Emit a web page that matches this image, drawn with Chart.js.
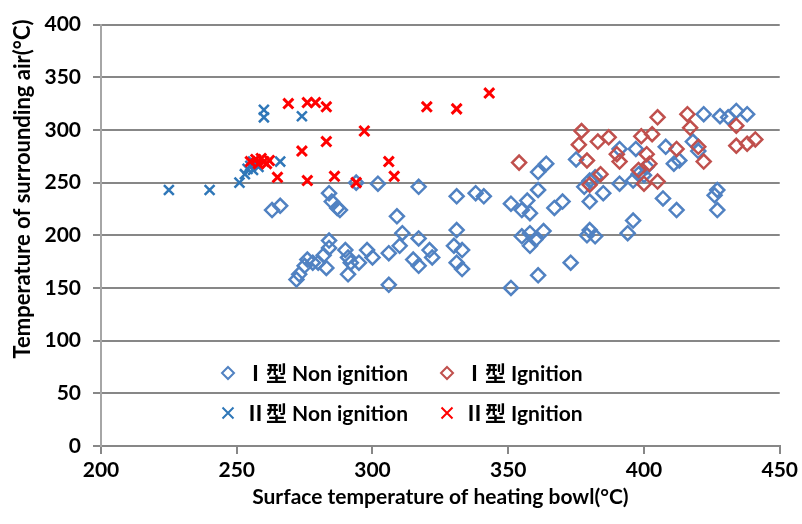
<!DOCTYPE html>
<html>
<head>
<meta charset="utf-8">
<title>Heating bowl vs surrounding air temperature</title>
<script src="https://cdn.jsdelivr.net/npm/chart.js@4/dist/chart.umd.min.js"></script>
<style>
  html, body { margin: 0; padding: 0; background: #fff; }
  #wrap { width: 802px; height: 524px; }
</style>
</head>
<body>
<div id="wrap"><canvas id="scatter" width="802" height="524"></canvas></div>
<script>
// Surface temperature of heating bowl (x, °C) vs surrounding air (y, °C)

const xTicks = [200, 250, 300, 350, 400, 450];
const yTicks = [0, 50, 100, 150, 200, 250, 300, 350, 400];

const seriesLabels = ['Ⅰ型 Non ignition', 'Ⅰ型 Ignition', 'Ⅱ型 Non ignition', 'Ⅱ型 Ignition'];
const xTitle = 'Surface temperature of heating bowl(°C)';
const yTitle = 'Temperature of surrounding air(°C)';

// type I, no ignition
const type1NonIgnition = [
    [263, 224], [266, 228], [272, 158], [273, 163], [275, 171], [276, 177], [278, 174],
    [280, 174], [282, 181], [283, 169], [284, 240], [285, 232], [284, 195], [284, 188],
    [288, 224], [287, 226], [290, 186], [291, 179], [291, 163], [292, 174], [295, 174],
    [298, 186], [300, 179], [294, 250], [302, 249], [306, 183], [306, 153], [309, 218],
    [310, 190], [311, 202], [315, 177], [317, 171], [317, 197], [317, 246], [321, 186],
    [322, 179], [330, 190], [331, 205], [331, 237], [331, 174], [333, 186], [333, 168],
    [338, 240], [341, 237], [351, 150], [351, 230], [355, 224], [357, 233], [358, 221],
    [361, 243], [361, 260], [364, 268], [367, 226], [370, 232], [355, 199], [358, 202],
    [360, 196], [363, 204], [358, 190], [361, 162], [373, 174], [375, 272], [380, 252],
    [380, 232], [385, 240], [391, 249], [380, 205], [382, 199], [379, 200], [394, 202],
    [396, 214], [391, 282], [397, 282], [401, 265], [400, 257], [408, 284], [411, 268],
    [407, 235], [412, 224], [418, 289], [420, 280], [422, 315], [428, 313], [431, 312],
    [434, 318], [438, 315], [427, 243], [426, 238], [427, 224], [413, 271], [398, 258],
    [396, 252], [382, 255], [378, 246]
];

// type I, ignition
const type1Ignition = [
    [354, 269], [376, 286], [377, 299], [379, 271], [383, 289], [387, 293], [390, 277],
    [391, 270], [399, 294], [400, 249], [401, 277], [403, 296], [405, 251], [405, 312],
    [412, 282], [416, 315], [417, 302], [420, 284], [422, 270], [434, 304], [434, 285],
    [438, 287], [441, 291], [398, 262], [402, 268], [380, 248], [384, 258]
];

// type II, no ignition
const type2NonIgnition = [
    [225, 243], [240, 243], [251, 250], [253, 258], [254, 263], [255, 266], [256, 262],
    [257, 268], [256, 270], [258, 265], [260, 319], [260, 312], [266, 270], [274, 313]
];

// type II, ignition
const type2Ignition = [
    [255, 270], [257, 272], [258, 268], [259, 273], [260, 270], [262, 271], [261, 268],
    [265, 255], [269, 325], [274, 280], [276, 252], [276, 326], [279, 326], [283, 322],
    [283, 289], [286, 256], [294, 250], [297, 299], [306, 270], [308, 256], [320, 322],
    [331, 320], [343, 335]
];

const FONT = 'Lato, "Noto Sans CJK SC", sans-serif';
const GRID = '#878787';

const toPoints = arr => arr.map(p => ({ x: p[0], y: p[1] }));

const styles = [
    { color: '#5182C2', shape: 'diamond', width: 2.5, radius: 7 },
    { color: '#C0504D', shape: 'diamond', width: 2.5, radius: 7 },
    { color: '#2F77B8', shape: 'cross', width: 2.5, radius: 7 },
    { color: '#FF0000', shape: 'cross', width: 3, radius: 7 }
];

function makeDataset(i, data) {
    const s = styles[i];
    return {
        label: seriesLabels[i],
        data: toPoints(data),
        pointStyle: s.shape === 'diamond' ? 'rectRot' : 'crossRot',
        pointRadius: s.radius,
        pointHoverRadius: s.radius,
        pointBorderWidth: s.width,
        pointBorderColor: s.color,
        pointBackgroundColor: 'rgba(0,0,0,0)',
        showLine: false,
        order: 3 - i
    };
}

// axis titles + the 2x2 legend inside the plot (no box)
const overlay = {
    id: 'overlay',
    afterDraw(chart) {
        const ctx = chart.ctx;
        const area = chart.chartArea;
        ctx.save();
        ctx.fillStyle = '#000';
        ctx.font = 'bold 21px ' + FONT;
        ctx.textAlign = 'center';
        ctx.textBaseline = 'middle';
        ctx.fillText(xTitle, (area.left + area.right) / 2, 497);

        ctx.save();
        ctx.translate(23, 189);
        ctx.rotate(-Math.PI / 2);
        ctx.font = 'bold 22px ' + FONT;
        ctx.fillText(yTitle, 0, 0);
        ctx.restore();

        const cells = [
            { x: 228, y: 373 }, { x: 447, y: 373 },
            { x: 228, y: 413 }, { x: 447, y: 413 }
        ];
        cells.forEach((c, i) => {
            const s = styles[i];
            ctx.strokeStyle = s.color;
            ctx.lineWidth = 2;
            ctx.beginPath();
            if (s.shape === 'diamond') {
                const r = 6;
                ctx.moveTo(c.x, c.y - r);
                ctx.lineTo(c.x + r, c.y);
                ctx.lineTo(c.x, c.y + r);
                ctx.lineTo(c.x - r, c.y);
                ctx.closePath();
            } else {
                const r = 5.5;
                ctx.moveTo(c.x - r, c.y - r);
                ctx.lineTo(c.x + r, c.y + r);
                ctx.moveTo(c.x + r, c.y - r);
                ctx.lineTo(c.x - r, c.y + r);
            }
            ctx.stroke();
            ctx.fillStyle = '#000';
            ctx.font = 'bold 21px ' + FONT;
            ctx.textAlign = 'left';
            ctx.textBaseline = 'middle';
            ctx.fillText(seriesLabels[i], c.x + 17, c.y + 1);
        });
        ctx.restore();
    }
};

const tickFont = { family: FONT, size: 21, weight: 'bold' };

new Chart(document.getElementById('scatter'), {
    type: 'scatter',
    data: {
        datasets: [
            makeDataset(0, type1NonIgnition),
            makeDataset(1, type1Ignition),
            makeDataset(2, type2NonIgnition),
            makeDataset(3, type2Ignition)
        ]
    },
    options: {
        responsive: false,
        animation: false,
        layout: { padding: { left: 0, right: 22, top: 19, bottom: 0 } },
        plugins: {
            legend: { display: false },
            tooltip: { enabled: false }
        },
        scales: {
            x: {
                type: 'linear',
                min: 200,
                max: 450,
                afterBuildTicks: s => { s.ticks = xTicks.map(v => ({ value: v })); },
                afterFit: s => { s.height = 78; },
                grid: { display: true, drawOnChartArea: false, drawTicks: true, tickLength: 8, color: GRID, lineWidth: 2 },
                border: { display: true, color: GRID, width: 2 },
                ticks: { color: '#000', padding: 4, font: tickFont }
            },
            y: {
                min: 0,
                max: 400,
                afterBuildTicks: s => { s.ticks = yTicks.map(v => ({ value: v })); },
                afterFit: s => { s.width = 101; },
                grid: { color: GRID, lineWidth: 2, tickLength: 8 },
                border: { display: true, color: '#A6A6A6', width: 2 },
                ticks: { color: '#000', padding: 12, font: tickFont }
            }
        }
    },
    plugins: [overlay]
});
</script>
</body>
</html>
